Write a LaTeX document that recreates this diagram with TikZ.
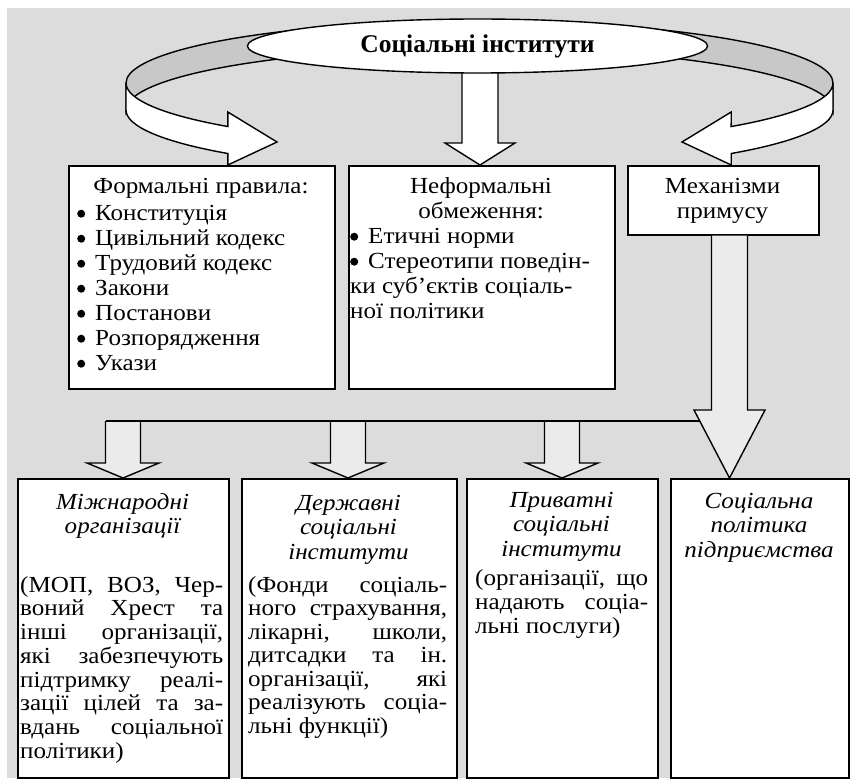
\documentclass[tikz,border=0pt]{standalone}
\usepackage{fontspec}
\setmainfont{Liberation Serif}
\newfontfamily\bodyfont{Liberation Serif}[FakeStretch=1.09]
\usetikzlibrary{shapes.geometric}
\definecolor{bgc}{RGB}{220,220,220}
\definecolor{bandc}{RGB}{200,200,200}
\definecolor{arrc}{RGB}{235,235,235}
\newcommand\jline[2]{\makebox[#1pt][s]{#2}}
\newcommand\bul{\makebox[18pt][l]{\tikz[baseline=0pt]\fill[black] (4pt,6.5pt) circle[radius=4pt];}}
\newcommand\tstrut{\rule{0pt}{22pt}}
\newcommand\tightlines{\lineskiplimit-100pt\relax}
\begin{document}
\begin{tikzpicture}[x=1pt,y=-1pt,
  box/.style={draw=black,line width=1.6pt,fill=white,inner sep=0pt,anchor=north west},
  blockarrow/.style={draw=black,line width=1.4pt,line join=miter},
  ring/.style={x radius=353.5pt,y radius=62pt},
  txt/.style={inner sep=0pt,anchor=north west,align=left,font=\bodyfont\fontsize{23}{25}\selectfont\tightlines},
  ctxt/.style={txt,anchor=north,align=center},
  itxt/.style={inner sep=0pt,anchor=north,align=center,font=\bodyfont\fontsize{23}{24.5}\selectfont\itshape\tightlines},
  btxt/.style={inner sep=0pt,anchor=north west,align=left,font=\bodyfont\fontsize{23}{#1}\selectfont\tightlines}
  ]
\useasboundingbox (0,0) rectangle (850,778);
\fill[bgc] (7,8) rectangle (850,778);

% ring behind the title (inner side, grey)
\draw[blockarrow,fill=bandc] (126,83) arc[ring,start angle=180,end angle=110] -- ++(0,27) arc[ring,start angle=110,end angle=180] -- cycle;
\draw[blockarrow,fill=bandc] (833,83) arc[ring,start angle=0,end angle=70] -- ++(0,27) arc[ring,start angle=70,end angle=0] -- cycle;
% ring front sides ending in arrow heads
\draw[blockarrow,fill=white] (126,83) arc[ring,start angle=180,end angle=224.6] -- (227.8,112) -- (277,142) -- (227.8,165) -- (227.8,153.5) arc[ring,start angle=224.6,end angle=180] -- cycle;
\draw[blockarrow,fill=white] (833,83) arc[ring,start angle=360,end angle=315.4] -- (731.2,112) -- (682,142) -- (731.2,165) -- (731.2,153.5) arc[ring,start angle=315.4,end angle=360] -- cycle;
% middle arrow
\draw[blockarrow,fill=white] (462,60) -- (462,143) -- (445,143) -- (480,165) -- (515,143) -- (498,143) -- (498,60) -- cycle;

\node[draw,line width=1.4pt,fill=white,ellipse,minimum width=460pt,minimum height=54pt,inner sep=0pt,font=\fontsize{25.5}{25}\selectfont\bfseries] (title) at (477.5,46) {Соціальні інститути};

% middle boxes
\node[box,minimum width=266pt,minimum height=223pt] (formal) at (68,165) {};
\node[box,minimum width=266pt,minimum height=223pt] (informal) at (348,165) {};
\node[box,minimum width=191pt,minimum height=69pt] (mech) at (627,165) {};

\node[ctxt] (formalT) at (201,171) {\tstrut Формальні правила:};
\node[txt] (formalL) at (77,198) {\tstrut\bul Конституція\\\bul Цивільний кодекс\\\bul Трудовий кодекс\\\bul Закони\\\bul Постанови\\\bul Розпорядження\\\bul Укази};
\node[ctxt] (informalT) at (481,171) {\tstrut Неформальні\\обмеження:};
\node[txt] (informalL) at (350,221) {\tstrut\bul Етичні норми\\\bul Стереотипи поведін-\\ки суб’єктів соціаль-\\ної політики};
\node[ctxt] (mechT) at (722.5,171) {\tstrut Механізми\\примусу};

% lower arrows
\foreach \c in {123,348,562} {
  \draw[blockarrow,fill=arrc] ({\c-17.5},421) -- ({\c-17.5},463) -- ({\c-36},463) -- (\c,478) -- ({\c+36},463) -- ({\c+17.5},463) -- ({\c+17.5},421);
}
\coordinate (hl) at (105.5,421);
\coordinate (hr) at (701,421);
\draw[line width=1.4pt] (hl) -- (hr);
\draw[blockarrow,fill=arrc] (mech.south -| 711.5,0) -- (711.5,410) -- (694,410) -- (729.5,478) -- (765,410) -- (747.5,410) -- (mech.south -| 747.5,0);

% bottom boxes
\node[box,minimum width=211pt,minimum height=299pt] (intl) at (17,478) {};
\node[box,minimum width=215pt,minimum height=299pt] (state) at (241,478) {};
\node[box,minimum width=191pt,minimum height=299pt] (priv) at (466,478) {};
\node[box,minimum width=178pt,minimum height=299pt] (firm) at (670,478) {};

\node[itxt] (intlT) at (122.5,487) {\tstrut Міжнародні\\організації};
\node[btxt=23.7] (intlB) at (20,570) {\tstrut\jline{203}{(МОП, ВОЗ, Чер-}\\\jline{203}{воний Хрест та}\\\jline{203}{інші організації,}\\\jline{203}{які забезпечують}\\\jline{203}{підтримку реалі-}\\\jline{203}{зації цілей та за-}\\\jline{203}{вдань соціальної}\\політики)};

\node[itxt] (stateT) at (348.5,488) {\tstrut Державні\\соціальні\\інститути};
\node[btxt=23.5] (stateB) at (248,570) {\tstrut\jline{199}{(Фонди соціаль-}\\\jline{199}{ного страхування,}\\\jline{199}{лікарні, школи,}\\\jline{199}{дитсадки та ін.}\\\jline{199}{організації, які}\\\jline{199}{реалізують соціа-}\\льні функції)};

\node[itxt] (privT) at (561.5,485) {\tstrut Приватні\\соціальні\\інститути};
\node[btxt=24] (privB) at (475,563) {\tstrut\jline{173}{(організації, що}\\\jline{173}{надають соціа-}\\льні послуги)};

\node[itxt] (firmT) at (759,486) {\tstrut Соціальна\\політика\\підприємства};
\end{tikzpicture}
\end{document}
